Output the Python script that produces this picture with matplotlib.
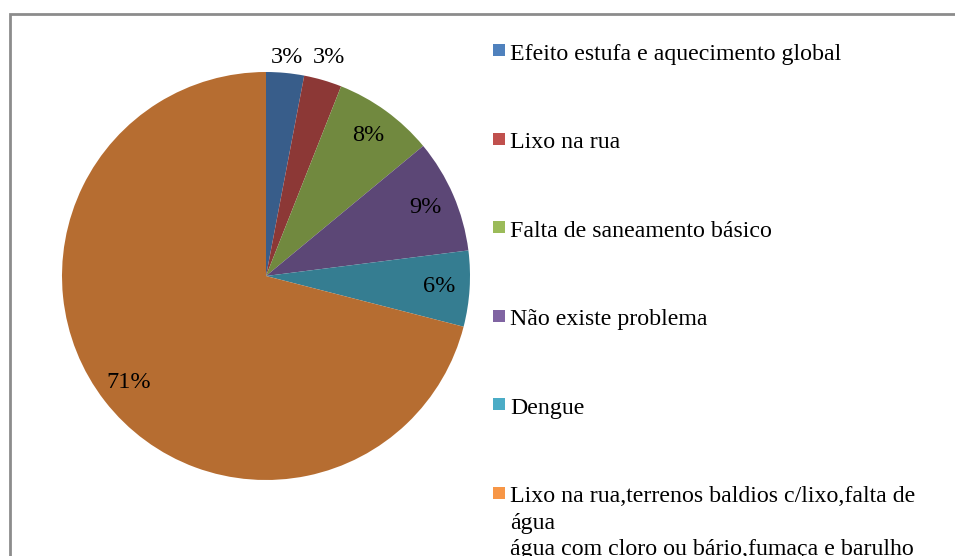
import matplotlib
matplotlib.use("Agg")
import matplotlib.pyplot as plt
from matplotlib.patches import Rectangle
import numpy as np

categories = [
    "Efeito estufa e aquecimento global",
    "Lixo na rua",
    "Falta de saneamento básico",
    "Não existe problema",
    "Dengue",
    "Lixo na rua,terrenos baldios c/lixo,falta de\nágua\nágua com cloro ou bário,fumaça e barulho",
]
values = [3, 3, 8, 9, 6, 71]
slice_colors = ["#385D8A", "#8C3836", "#71893F", "#5C4776", "#357D91", "#B66D31"]
legend_colors = ["#4F81BD", "#C0504D", "#9BBB59", "#8064A2", "#4BACC6", "#F79646"]

W, H = 955, 556
fig = plt.figure(figsize=(W / 100, H / 100), dpi=100)
fig.patch.set_facecolor("white")

def fx(px):
    return px / W

def fy(py):
    return 1 - py / H

# outer frame (extends beyond right and bottom edges)
fig.patches.append(Rectangle((fx(9.5), fy(600)), fx(1000), fy(13.5) - fy(600),
                             transform=fig.transFigure, fill=False,
                             edgecolor="#8C8C8C", linewidth=2.0))

cx, cy, r = 266, 276, 204
ax = fig.add_axes([fx(cx - r), fy(cy + r), (2 * r) / W, (2 * r) / H])
wedges, texts, autotexts = ax.pie(values, colors=slice_colors, startangle=90,
                                  counterclock=False, radius=1.0,
                                  autopct=lambda p: f"{p:.0f}%", pctdistance=0.85,
                                  wedgeprops=dict(linewidth=0),
                                  textprops=dict(family="Liberation Serif", fontsize=17.5,
                                                 color="black"))
# small slices: labels placed above the pie along the slice direction
for w, t, v in zip(wedges, autotexts, values):
    if v <= 3:
        ang = np.deg2rad((w.theta1 + w.theta2) / 2)
        yl = 1.07
        t.set_position((yl / np.tan(ang), yl))
ax.set_xlim(-1, 1)
ax.set_ylim(-1, 1)
ax.set_aspect("equal")
ax.axis("off")

# legend
x_sw, y0, step, sw = 493, 50, 88.5, 12
for i, (lab, col) in enumerate(zip(categories, legend_colors)):
    yc = y0 + i * step
    fig.patches.append(Rectangle((fx(x_sw), fy(yc + sw / 2)), sw / W, sw / H,
                                 transform=fig.transFigure, facecolor=col,
                                 edgecolor="none"))
    fig.text(fx(510), fy(yc - 6), lab, family="Liberation Serif", fontsize=17.2,
             color="black", ha="left", va="top", linespacing=1.33)

fig.savefig("out.png", dpi=100, facecolor="white")
